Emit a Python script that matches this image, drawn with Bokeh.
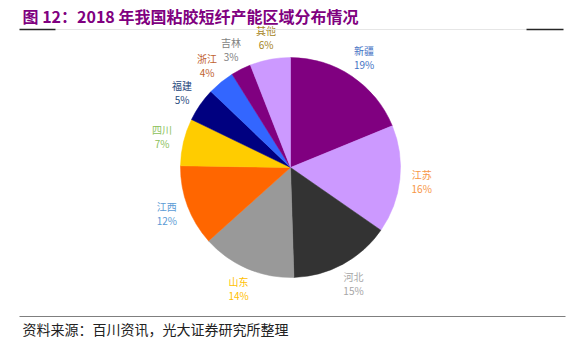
import math
from bokeh.plotting import figure
from bokeh.models import Range1d, ColumnDataSource
from bokeh.core.properties import value
from bokeh.embed import file_html
from bokeh.resources import INLINE

# ---- data ----
regions = ["新疆", "江苏", "河北", "山东", "江西", "四川", "福建", "浙江", "吉林", "其他"]
shares = [19, 16, 15, 14, 12, 7, 5, 4, 3, 6]
pct_labels = ["19%", "16%", "15%", "14%", "12%", "7%", "5%", "4%", "3%", "6%"]
slice_colors = ["#800080", "#CC99FF", "#333333", "#999999", "#FF6600",
                "#FFCC00", "#000080", "#3366FF", "#800080", "#CC99FF"]
label_colors = ["#4472C4", "#F79646", "#A6A6A6", "#FFC000", "#5B9BD5",
                "#8CBF5A", "#1F497D", "#C0622D", "#7F7F7F", "#A5841B"]
title_text = "图 12：2018 年我国粘胶短纤产能区域分布情况"
source_text = "资料来源：百川资讯，光大证券研究所整理"

W, H = 584, 353
def Y(ypx):
    return H - ypx

CX, CY, R = 290, Y(167), 110
LR = 132

total = float(sum(shares))
starts, ends, lx, ly = [], [], [], []
c = 0.0
for s in shares:
    c0 = c / total
    c += s
    c1 = c / total
    starts.append(math.pi / 2 - 2 * math.pi * c0)
    ends.append(math.pi / 2 - 2 * math.pi * c1)
    mid = math.pi / 2 - 2 * math.pi * (c0 + c1) / 2
    lx.append(CX + LR * math.cos(mid))
    ly.append(CY + LR * math.sin(mid))

src = ColumnDataSource(dict(
    region=regions, share=shares, pct=pct_labels,
    start=starts, end=ends, color=slice_colors, lcolor=label_colors,
    lx=lx, ly_name=[v + 7 for v in ly], ly_pct=[v - 7 for v in ly],
))

p = figure(width=W, height=H, x_range=Range1d(0, W), y_range=Range1d(0, H),
           output_backend="svg", toolbar_location=None, min_border=0)
p.axis.visible = False
p.grid.visible = False
p.outline_line_color = None
p.background_fill_color = "white"
p.border_fill_color = "white"

p.wedge(x=CX, y=CY, radius=R, start_angle="start", end_angle="end",
        direction="clock", fill_color="color", line_color="color",
        line_width=0.5, source=src)

font = value("Noto Sans CJK SC")
p.text(x="lx", y="ly_name", text="region", text_color="lcolor",
       text_align="center", text_baseline="middle", text_font=font,
       text_font_size="10px", source=src)
p.text(x="lx", y="ly_pct", text="pct", text_color="lcolor",
       text_align="center", text_baseline="middle", text_font=font,
       text_font_size="10px", source=src)

# title
p.text(x=[22], y=[Y(15.5)], text=[title_text], text_color="#800080",
       text_align="left", text_baseline="middle", text_font=font,
       text_font_size="16px", text_font_style="bold")
# title rules
p.segment(x0=[55], y0=[Y(29)], x1=[526], y1=[Y(29)], line_color="#E6E6E6", line_width=1)
p.segment(x0=[19, 526], y0=[Y(29), Y(29)], x1=[55, 563], y1=[Y(29), Y(29)],
          line_color="#262626", line_width=1.5)

# footer
p.segment(x0=[19], y0=[Y(316)], x1=[565], y1=[Y(316)], line_color="#7F7F7F", line_width=1.2)
p.text(x=[22], y=[Y(328)], text=[source_text], text_color="#222222",
       text_align="left", text_baseline="middle", text_font=font,
       text_font_size="14px")

open("out.html", "w").write(file_html(p, INLINE))
